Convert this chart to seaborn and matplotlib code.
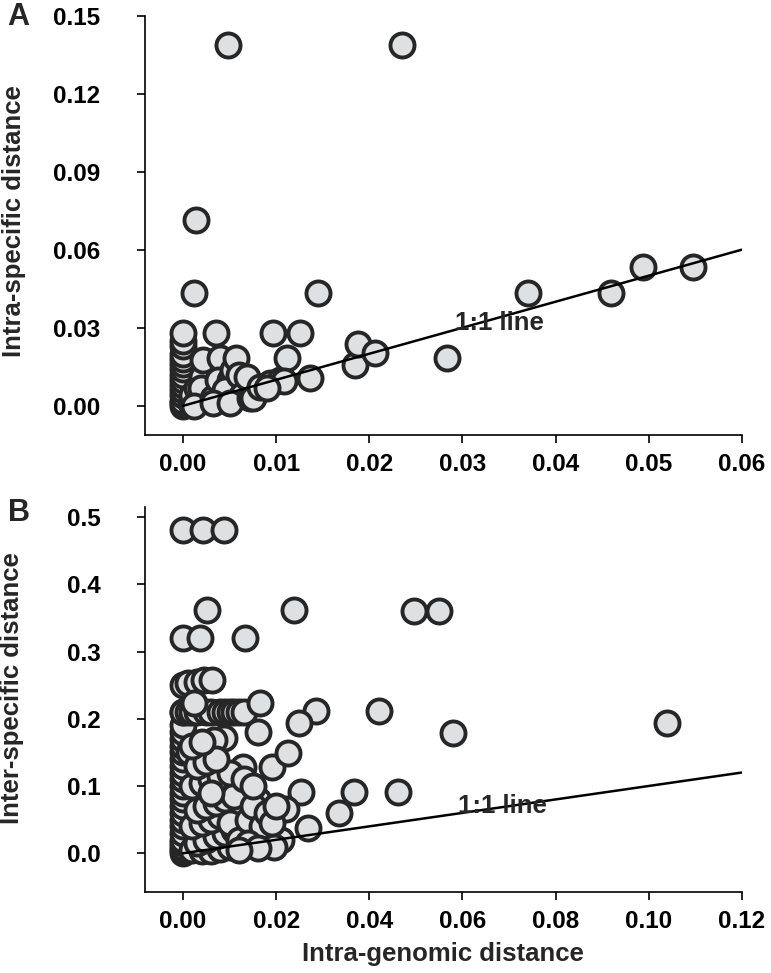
import numpy as np
import pandas as pd
import matplotlib
matplotlib.use("Agg")
import matplotlib.pyplot as plt
import seaborn as sns

# Panel A: intra-genomic vs intra-specific distance
a_x = [0.0, 0.0, 0.0, 0.0, 0.0, 0.0, 0.0, 0.0, 0.0, 0.0, 0.0, 0.0, 0.0, 0.0, 0.0,
       0.0008, 0.001, 0.0015, 0.002, 0.0021, 0.0012, 0.0014, 0.0019, 0.0012,
       0.0032, 0.0035, 0.004, 0.0038, 0.005, 0.0054, 0.0057, 0.0051, 0.0048, 0.0045, 0.006, 0.0063,
       0.0032, 0.005, 0.0072,
       0.0069, 0.0075, 0.0083, 0.0093, 0.0097, 0.0104, 0.0112, 0.0108, 0.009, 0.0126,
       0.0136, 0.0145, 0.0185, 0.0188, 0.0206, 0.0235, 0.0283, 0.037, 0.046, 0.0494, 0.0548]
a_y = [0.0, 0.001, 0.002, 0.004, 0.006, 0.008, 0.010, 0.012, 0.014, 0.016, 0.018, 0.020, 0.023, 0.025, 0.028,
       0.001, 0.004, 0.007, 0.011, 0.0177, 0.0435, 0.0715, 0.0068, 0.0,
       0.003, 0.028, 0.0185, 0.010, 0.010, 0.0138, 0.0185, 0.003, 0.1385, 0.006, 0.012, 0.004,
       0.001, 0.001, 0.003,
       0.011, 0.003, 0.0073, 0.0088, 0.028, 0.010, 0.0185, 0.0095, 0.007, 0.028,
       0.0108, 0.0435, 0.0158, 0.0238, 0.0204, 0.1385, 0.0185, 0.0435, 0.0435, 0.0535, 0.0535]

# Panel B: intra-genomic vs inter-specific distance
b_x = [0.0, 0.0, 0.0, 0.0, 0.0, 0.0, 0.0, 0.0, 0.0, 0.0, 0.0, 0.0, 0.0, 0.0,
       0.0, 0.0, 0.0, 0.0, 0.0, 0.0, 0.0, 0.0, 0.0, 0.0, 0.0, 0.0, 0.0,
       0.001, 0.002, 0.003, 0.005, 0.006, 0.008, 0.009, 0.010, 0.011, 0.012, 0.013,
       0.001, 0.003, 0.0045, 0.0062,
       0.0043, 0.0088,
       0.0052, 0.0239, 0.0497, 0.055,
       0.0037, 0.0133,
       0.0024, 0.0166, 0.0286, 0.025, 0.042, 0.058, 0.1039, 0.016, 0.0088, 0.0067,
       0.0013, 0.0043, 0.0039, 0.0129, 0.019, 0.0226, 0.013, 0.0254, 0.022, 0.0335,
       0.0368, 0.0462, 0.0269, 0.0174, 0.021, 0.0196, 0.0075, 0.016,
       0.002, 0.004, 0.006, 0.008, 0.010, 0.003, 0.005, 0.007, 0.009, 0.011,
       0.002, 0.004, 0.006, 0.008, 0.012, 0.003, 0.005, 0.007, 0.009, 0.011,
       0.002, 0.004, 0.006, 0.008, 0.010, 0.003, 0.005, 0.007, 0.002, 0.004,
       0.006, 0.010, 0.012, 0.014, 0.015, 0.013, 0.015, 0.017, 0.018, 0.014,
       0.016, 0.012, 0.019, 0.020]
b_y = [0.0, 0.005, 0.01, 0.015, 0.02, 0.03, 0.04, 0.05, 0.06, 0.07, 0.08, 0.09, 0.10, 0.11,
       0.12, 0.13, 0.14, 0.15, 0.16, 0.17, 0.18, 0.19, 0.21, 0.21, 0.25, 0.32, 0.48,
       0.21, 0.21, 0.21, 0.21, 0.21, 0.21, 0.21, 0.21, 0.21, 0.21, 0.21,
       0.253, 0.255, 0.257, 0.257,
       0.48, 0.48,
       0.362, 0.362, 0.36, 0.36,
       0.32, 0.32,
       0.223, 0.223, 0.211, 0.193, 0.211, 0.179, 0.193, 0.18, 0.171, 0.168,
       0.150, 0.123, 0.12, 0.128, 0.128, 0.149, 0.089, 0.091, 0.066, 0.0595,
       0.091, 0.091, 0.037, 0.028, 0.02, 0.009, 0.094, 0.079,
       0.005, 0.003, 0.004, 0.006, 0.01, 0.015, 0.02, 0.025, 0.03, 0.035,
       0.04, 0.045, 0.05, 0.055, 0.06, 0.065, 0.07, 0.075, 0.08, 0.085,
       0.1, 0.105, 0.11, 0.115, 0.12, 0.13, 0.135, 0.14, 0.16, 0.165,
       0.09, 0.045, 0.02, 0.05, 0.07, 0.11, 0.1, 0.04, 0.06, 0.015,
       0.008, 0.005, 0.045, 0.07]

a_xticks = ["0.00", "0.01", "0.02", "0.03", "0.04", "0.05", "0.06"]
a_yticks = ["0.00", "0.03", "0.06", "0.09", "0.12", "0.15"]
b_xticks = ["0.00", "0.02", "0.04", "0.06", "0.08", "0.10", "0.12"]
b_yticks = ["0.0", "0.1", "0.2", "0.3", "0.4", "0.5"]

dfa = pd.DataFrame({"x": a_x, "y": a_y})
dfb = pd.DataFrame({"x": b_x, "y": b_y})

sns.set_style("ticks")
plt.rcParams['font.family'] = ['Liberation Sans', 'DejaVu Sans']
plt.rcParams['font.weight'] = 'bold'

fig = plt.figure(figsize=(7.71, 9.73), dpi=100)
ax1 = fig.add_axes([0.188, 0.553, 0.774, 0.431])
ax2 = fig.add_axes([0.188, 0.083, 0.774, 0.396])

face = "#dfe0e2"
edge = "#262626"

for ax, df, lim in [(ax1, dfa, 0.06), (ax2, dfb, 0.12)]:
    sns.scatterplot(data=df, x="x", y="y", ax=ax, s=300, color=face,
                    edgecolor=edge, linewidth=2.8, zorder=2)
    ax.plot([0, lim], [0, lim], color="black", lw=1.8, zorder=3)
    for sp in ["top", "right"]:
        ax.spines[sp].set_visible(False)
    for sp in ["left", "bottom"]:
        ax.spines[sp].set_linewidth(1.2)
        ax.spines[sp].set_color("black")
    ax.tick_params(axis="both", length=6, width=1.2, labelsize=17.5, colors="black")
    ax.tick_params(axis="y", pad=26)
    ax.tick_params(axis="x", pad=7)

# panel A axes
ax1.set_xlim(-0.0041, 0.06)
ax1.set_ylim(-0.0112, 0.15)
ax1.set_xticks([0.0, 0.01, 0.02, 0.03, 0.04, 0.05, 0.06])
ax1.set_xticklabels(a_xticks, fontweight="bold")
ax1.set_yticks([0.0, 0.03, 0.06, 0.09, 0.12, 0.15])
ax1.set_yticklabels(a_yticks, fontweight="bold")
ax1.set_xlabel("")
ax1.set_ylabel("Intra-specific distance", fontsize=18.5, fontweight="bold")
ax1.yaxis.set_label_coords(-0.2, 0.51)
ax1.text(0.0292, 0.032, "1:1 line", fontsize=18.5, fontweight="bold", va="center", ha="left")

# panel B axes
ax2.set_xlim(-0.0082, 0.12)
ax2.set_ylim(-0.058, 0.515)
ax2.set_xticks([0.0, 0.02, 0.04, 0.06, 0.08, 0.10, 0.12])
ax2.set_xticklabels(b_xticks, fontweight="bold")
ax2.set_yticks([0.0, 0.1, 0.2, 0.3, 0.4, 0.5])
ax2.set_yticklabels(b_yticks, fontweight="bold")
ax2.set_xlabel("Intra-genomic distance", fontsize=18.5, fontweight="bold", labelpad=6)
ax2.set_ylabel("Inter-specific distance", fontsize=18.5, fontweight="bold")
ax2.yaxis.set_label_coords(-0.203, 0.53)
ax2.text(0.059, 0.07, "1:1 line", fontsize=18.5, fontweight="bold", va="center", ha="left")

fig.text(0.010, 0.983, "A", fontsize=22, fontweight="bold", va="center")
fig.text(0.010, 0.473, "B", fontsize=22, fontweight="bold", va="center")

fig.savefig("out.png", dpi=100)
